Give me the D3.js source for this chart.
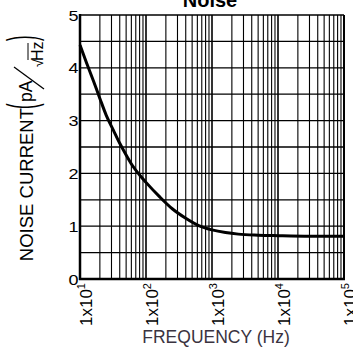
<!DOCTYPE html>
<html><head><meta charset="utf-8">
<script src="https://cdn.jsdelivr.net/npm/d3@7"></script>
<style>html,body{margin:0;padding:0;background:#fff;}svg{display:block;}</style>
</head><body>
<svg id="c" width="353" height="347"></svg>
<script>
const title = "Noise";
const xTitle = "FREQUENCY (Hz)";
const yTitleMain = "NOISE CURRENT";
const freqHz = [10, 12.5, 16, 20, 25, 32, 40, 50, 63, 80, 100, 160, 250, 400, 630, 1000, 1600, 2500, 5000, 10000, 30000, 100000];
const noiseCurrent = [4.43, 4.10, 3.75, 3.42, 3.10, 2.82, 2.57, 2.35, 2.14, 1.97, 1.83, 1.56, 1.33, 1.15, 1.01, 0.93, 0.88, 0.85, 0.83, 0.82, 0.81, 0.81];
const xDecades = [10, 100, 1000, 10000, 100000];
const xExponents = ["1", "2", "3", "4", "5"];
const yTicks = [0, 1, 2, 3, 4, 5];
const yGrid = [0, 0.5, 1, 1.5, 2, 2.5, 3, 3.5, 4, 4.5, 5];

const FONT = "'Liberation Sans', Arial, Helvetica, sans-serif";
const svg = d3.select("#c");
const L = 80, R = 344, T = 15, B = 279;
const x = d3.scaleLog().domain([10, 100000]).range([L, R]);
const y = d3.scaleLinear().domain([0, 5]).range([B, T]);

// minor vertical grid
const minors = [];
xDecades.slice(0, -1).forEach(d => { for (let k = 2; k <= 9; k++) minors.push(d * k); });
svg.append("g").selectAll("line").data(minors).join("line")
  .attr("x1", d => x(d)).attr("x2", d => x(d)).attr("y1", T).attr("y2", B)
  .attr("stroke", "#000").attr("stroke-width", 1.1);
svg.append("g").selectAll("line").data(xDecades).join("line")
  .attr("x1", d => x(d)).attr("x2", d => x(d)).attr("y1", T).attr("y2", B)
  .attr("stroke", "#000").attr("stroke-width", 1.6);
svg.append("g").selectAll("line").data(yGrid).join("line")
  .attr("x1", L).attr("x2", R).attr("y1", d => y(d)).attr("y2", d => y(d))
  .attr("stroke", "#000").attr("stroke-width", 1.3);

// frame
svg.append("line").attr("x1", L).attr("x2", L).attr("y1", T - 1).attr("y2", B + 1).attr("stroke", "#000").attr("stroke-width", 2.5);
svg.append("line").attr("x1", L - 1).attr("x2", R + 1).attr("y1", B).attr("y2", B).attr("stroke", "#000").attr("stroke-width", 2.5);
svg.append("line").attr("x1", R).attr("x2", R).attr("y1", T).attr("y2", B).attr("stroke", "#000").attr("stroke-width", 2);

// curve
const line = d3.line().x((d, i) => x(freqHz[i])).y(d => y(d)).curve(d3.curveMonotoneX);
svg.append("path").datum(noiseCurrent).attr("d", line)
  .attr("fill", "none").attr("stroke", "#000").attr("stroke-width", 3).attr("stroke-linejoin", "round");

// y tick labels
svg.append("g").selectAll("text").data(yTicks).join("text")
  .attr("transform", d => `translate(78.5,${y(d) + 5.5}) scale(1.2,1)`).attr("text-anchor", "end")
  .attr("font-family", FONT).attr("font-size", 15).attr("fill", "#000")
  .text(d => d);

// x tick labels (rotated)
const xl = svg.append("g").selectAll("text").data(xDecades).join("text")
  .attr("transform", d => `translate(${x(d) + 12},283) rotate(-90)`)
  .attr("text-anchor", "end").attr("font-family", FONT).attr("font-size", 17).attr("fill", "#000");
xl.append("tspan").text("1x10");
xl.append("tspan").attr("font-size", 11).attr("dy", -7).text((d, i) => xExponents[i]);

// x title
svg.append("text").attr("x", 216).attr("y", 343).attr("text-anchor", "middle")
  .attr("font-family", FONT).attr("font-size", 17.5).attr("fill", "#3a3340").text(xTitle);

// title
svg.append("text").attr("x", 210).attr("y", 6.5).attr("text-anchor", "middle")
  .attr("font-family", FONT).attr("font-size", 20).attr("font-weight", "bold").attr("fill", "#000").text(title);

// y title (rotated group; local x = -actualY, local y = actualX)
const yt = svg.append("g").attr("transform", "rotate(-90)")
  .attr("font-family", FONT).attr("fill", "#000");
yt.append("text").attr("x", -108).attr("y", 33).attr("text-anchor", "end").attr("font-size", 18.5).text(yTitleMain);
yt.append("text").attr("transform", "translate(-109,36) scale(1,2.35)").attr("font-size", 17).text("(");
yt.append("text").attr("x", -102).attr("y", 32).attr("font-size", 17.5).text("pA");
yt.append("line").attr("x1", -89).attr("y1", 44).attr("x2", -67).attr("y2", 14).attr("stroke", "#000").attr("stroke-width", 1.3);
yt.append("text").attr("x", -67).attr("y", 43).attr("font-size", 14).text("\u221A");
yt.append("line").attr("x1", -60).attr("x2", -43).attr("y1", 28).attr("y2", 28).attr("stroke", "#000").attr("stroke-width", 1);
yt.append("text").attr("x", -61).attr("y", 43).attr("font-size", 16).text("Hz");
yt.append("text").attr("transform", "translate(-41,36) scale(1,2.35)").attr("font-size", 17).text(")");
</script>
</body></html>
